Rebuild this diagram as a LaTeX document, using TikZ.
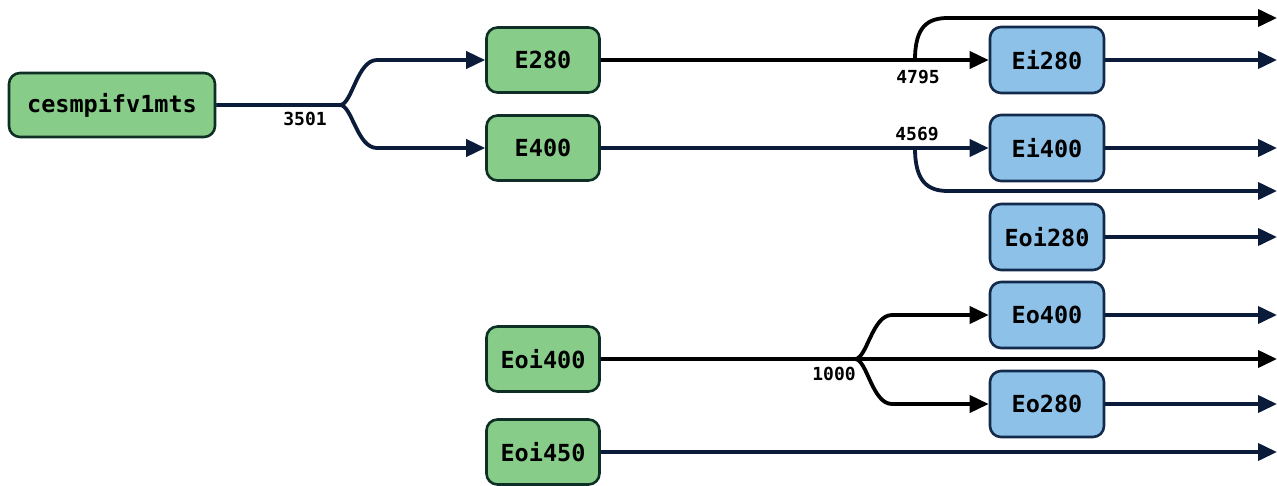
\documentclass[tikz,border=0pt]{standalone}
\usepackage{fontspec}
\newfontfamily\monob{DejaVu Sans Mono}[BoldFont=* Bold]
\usetikzlibrary{arrows.meta}
\definecolor{navy}{RGB}{10,28,58}
\definecolor{gfill}{RGB}{136,204,138}
\definecolor{gdraw}{RGB}{14,48,36}
\definecolor{bfill}{RGB}{142,193,232}
\definecolor{bdraw}{RGB}{18,42,75}
\tikzset{
  gbox/.style={draw=gdraw, fill=gfill, line width=2.6pt, rounded corners=11pt, minimum width=113pt, minimum height=65pt, inner sep=0pt, font=\monob\bfseries\fontsize{23.5}{27}\selectfont},
  bbox/.style={draw=bdraw, fill=bfill, line width=2.6pt, rounded corners=11pt, minimum width=114pt, minimum height=66pt, inner sep=0pt, font=\monob\bfseries\fontsize{23.5}{27}\selectfont},
  lbl/.style={font=\monob\bfseries\fontsize{18}{20}\selectfont, inner sep=0pt},
  edge/.style={draw=navy, line width=3.8pt, -{Triangle[length=19pt,width=17pt]}},
  bedge/.style={draw=black, line width=3.8pt, -{Triangle[length=19pt,width=17pt]}},
}
\begin{document}
\begin{tikzpicture}[x=1pt,y=-1pt]
\path[use as bounding box] (0,0) rectangle (1277,485);
% nodes
\node[gbox, minimum width=206pt, minimum height=64pt] (c) at (112,105) {cesmpifv1mts};
\node[gbox] (e280) at (543,60) {E280};
\node[gbox] (e400) at (543,148) {E400};
\node[gbox] (eoi400) at (543,359) {Eoi400};
\node[gbox] (eoi450) at (543,452) {Eoi450};
\node[bbox] (ei280) at (1047,60) {Ei280};
\node[bbox] (ei400) at (1047,148) {Ei400};
\node[bbox] (eoi280) at (1047,237) {Eoi280};
\node[bbox] (eo400) at (1047,315) {Eo400};
\node[bbox] (eo280) at (1047,404) {Eo280};
% split coordinates
\coordinate (s1) at (340,105);
\coordinate (s2) at (915,60);
\coordinate (s3) at (915,148);
\coordinate (s4) at (855,359);
% free ends
\coordinate (t18) at (1277,18);
\coordinate (t60) at (1277,60);
\coordinate (t148) at (1277,148);
\coordinate (t191) at (1277,191);
\coordinate (t237) at (1277,237);
\coordinate (t315) at (1277,315);
\coordinate (t359) at (1277,359);
\coordinate (t404) at (1277,404);
\coordinate (t452) at (1277,452);
% edges from cesmpifv1mts
\draw[edge] (c.east) -- (s1) .. controls +(12,0) and +(-20,0) .. (377,60) -- (e280.west);
\draw[edge] (c.east) -- (s1) .. controls +(12,0) and +(-20,0) .. (377,148) -- (e400.west);
\node[lbl] (l3501) at (305,119) {3501};
% E280
\draw[bedge] (e280.east) -- (ei280.west);
\draw[bedge] (e280.east) -- (s2) .. controls +(0,-34) and +(-20,0) .. (948,18) -- (t18);
\node[lbl] (l4795) at (918,77) {4795};
% E400
\draw[edge] (e400.east) -- (ei400.west);
\draw[edge] (e400.east) -- (s3) .. controls +(0,34) and +(-20,0) .. (948,191) -- (t191);
\node[lbl] (l4569) at (917,134) {4569};
% Eoi400
\draw[bedge] (eoi400.east) -- (s4) .. controls +(12,0) and +(-20,0) .. (892,315) -- (eo400.west);
\draw[bedge] (eoi400.east) -- (t359);
\draw[bedge] (eoi400.east) -- (s4) .. controls +(12,0) and +(-20,0) .. (892,404) -- (eo280.west);
\node[lbl] (l1000) at (834,374) {1000};
% outgoing
\draw[edge] (ei280.east) -- (t60);
\draw[edge] (ei400.east) -- (t148);
\draw[edge] (eoi280.east) -- (t237);
\draw[edge] (eo400.east) -- (t315);
\draw[edge] (eo280.east) -- (t404);
\draw[edge] (eoi450.east) -- (t452);
\end{tikzpicture}
\end{document}
